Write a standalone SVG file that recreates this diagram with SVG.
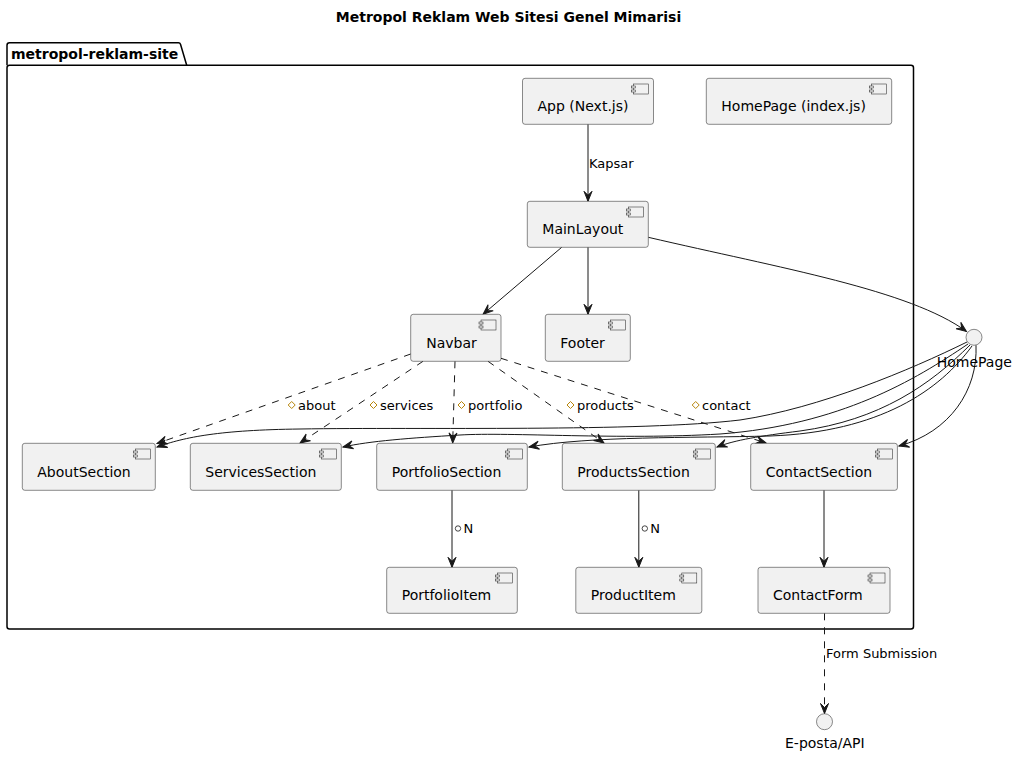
<svg xmlns="http://www.w3.org/2000/svg" width="1017" height="758" viewBox="0 0 1017 758">
<style>
text{font-family:"DejaVu Sans","Liberation Sans",sans-serif;fill:#000}
.title{font-size:14px;font-weight:bold}
.pkgl{font-size:14px;font-weight:bold}
.pkg{fill:none;stroke:#000;stroke-width:1.5}
.box{fill:#F1F1F1;stroke:#181818;stroke-width:0.5}
.ic{fill:#F1F1F1;stroke:#181818;stroke-width:0.5}
.nt{font-size:14px}
.el{font-size:13px}
.ln{fill:none;stroke:#181818;stroke-width:1}
.dash{stroke-dasharray:7,7}
.dia{fill:none;stroke:#B8860B;stroke-width:1}
.circ{fill:#F1F1F1;stroke:#181818;stroke-width:0.5}
.sc{fill:none;stroke:#181818;stroke-width:0.8}
</style>
<defs>
<marker id="ah" markerUnits="userSpaceOnUse" markerWidth="14" markerHeight="12" viewBox="-11 -6 12 12" refX="0" refY="0" orient="auto">
<path d="M0,0 L-10,-4 L-6,0 L-10,4 Z" fill="#181818" stroke="#181818" stroke-width="1"/>
</marker>
<g id="icon">
<rect class="ic" x="0" y="0" width="15" height="10"/>
<rect class="ic" x="-2" y="2" width="4" height="2"/>
<rect class="ic" x="-2" y="6" width="4" height="2"/>
</g>
</defs>

<text class="title" x="508.5" y="22" text-anchor="middle">Metropol Reklam Web Sitesi Genel Mimarisi</text>

<g id="pkg-metropol-reklam-site">
<path class="pkg" d="M7,65.3 L7,45.2 Q7,42.7 9.5,42.7 L178.5,42.7 Q180,42.7 180.5,44.2 L186.7,65.3"/>
<rect class="pkg" x="7" y="65.3" width="906.5" height="563.7" rx="2.5"/>
<text class="pkgl" x="11" y="59">metropol-reklam-site</text>
</g>

<g id="connectors">
<path class="ln" d="M588,124.3 L588,201.3" marker-end="url(#ah)"/>
<text class="el" x="589" y="168">Kapsar</text>
<path class="ln" d="M561.7,247.3 L483,314.3" marker-end="url(#ah)"/>
<path class="ln" d="M588,247.3 L588,314.3" marker-end="url(#ah)"/>
<path class="ln" d="M648.3,237.3 C780,268 910,290 966.5,331.5" marker-end="url(#ah)"/>

<path class="ln dash" d="M410.7,354 L157,443.5" marker-end="url(#ah)"/>
<path class="ln dash" d="M423,361.3 L300,443" marker-end="url(#ah)"/>
<path class="ln dash" d="M455,361.3 L452.7,443" marker-end="url(#ah)"/>
<path class="ln dash" d="M488,361.3 L604,443" marker-end="url(#ah)"/>
<path class="ln dash" d="M501,358.3 L766,443" marker-end="url(#ah)"/>

<path class="dia" d="M291.7,401.5 L295.2,405 L291.7,408.5 L288.2,405 Z"/>
<text class="el" x="298" y="410">about</text>
<path class="dia" d="M373.5,401.5 L377,405 L373.5,408.5 L370,405 Z"/>
<text class="el" x="380" y="410">services</text>
<path class="dia" d="M461.5,401.5 L465,405 L461.5,408.5 L458,405 Z"/>
<text class="el" x="468" y="410">portfolio</text>
<path class="dia" d="M570.5,401.5 L574,405 L570.5,408.5 L567,405 Z"/>
<text class="el" x="577" y="410">products</text>
<path class="dia" d="M695.7,401.5 L699.2,405 L695.7,408.5 L692.2,405 Z"/>
<text class="el" x="702" y="410">contact</text>

<path class="ln" d="M967,342 C910,370 820,408 740,420 C640,432 420,427 300,429 C220,430 185,437 157,447" marker-end="url(#ah)"/>
<path class="ln" d="M968,344 C915,380 840,425 720,434 C620,440 510,432 460,435 C410,438 370,441 343,447" marker-end="url(#ah)"/>
<path class="ln" d="M972,346 C940,390 880,432 770,436 C690,438 590,436 529,447" marker-end="url(#ah)"/>
<path class="ln" d="M970,345 C930,385 880,420 800,431 C760,436 735,440 717,447" marker-end="url(#ah)"/>
<path class="ln" d="M976,345.3 C978,390 950,432 899,446" marker-end="url(#ah)"/>

<path class="ln" d="M452,490.3 L452,567.3" marker-end="url(#ah)"/>
<circle class="sc" cx="458" cy="528.5" r="2.7"/>
<text class="el" x="463.5" y="533">N</text>
<path class="ln" d="M638.8,490.3 L638.8,567.3" marker-end="url(#ah)"/>
<circle class="sc" cx="644.8" cy="528.5" r="2.7"/>
<text class="el" x="650.3" y="533">N</text>
<path class="ln" d="M824,490.3 L824,567.3" marker-end="url(#ah)"/>
<path class="ln dash" d="M824.5,613.3 L824.5,713.5" marker-end="url(#ah)"/>
<text class="el" x="826" y="658">Form Submission</text>
</g>

<g id="node-app">
<rect class="box" x="522.5" y="78.3" width="131" height="46" rx="2.5"/>
<use href="#icon" x="633.5" y="84"/>
<text class="nt" x="537.5" y="111">App (Next.js)</text>
</g>
<g id="node-homepage-index">
<rect class="box" x="706.3" y="78.3" width="185.4" height="46" rx="2.5"/>
<use href="#icon" x="871.7" y="84"/>
<text class="nt" x="721.3" y="111">HomePage (index.js)</text>
</g>
<g id="node-mainlayout">
<rect class="box" x="527.3" y="201.3" width="121" height="46" rx="2.5"/>
<use href="#icon" x="628.3" y="207"/>
<text class="nt" x="542.3" y="234">MainLayout</text>
</g>
<g id="node-navbar">
<rect class="box" x="410.7" y="314.3" width="90.3" height="47" rx="2.5"/>
<use href="#icon" x="481" y="320"/>
<text class="nt" x="426.2" y="347.5">Navbar</text>
</g>
<g id="node-footer">
<rect class="box" x="545.3" y="314.3" width="85" height="47" rx="2.5"/>
<use href="#icon" x="610.3" y="320"/>
<text class="nt" x="560.3" y="347.5">Footer</text>
</g>
<g id="node-about">
<rect class="box" x="22.3" y="443.3" width="133" height="47" rx="2.5"/>
<use href="#icon" x="135.3" y="449"/>
<text class="nt" x="37.3" y="476.5">AboutSection</text>
</g>
<g id="node-services">
<rect class="box" x="190.3" y="443.3" width="151" height="47" rx="2.5"/>
<use href="#icon" x="321.3" y="449"/>
<text class="nt" x="205.3" y="476.5">ServicesSection</text>
</g>
<g id="node-portfolio">
<rect class="box" x="376.7" y="443.3" width="150.6" height="47" rx="2.5"/>
<use href="#icon" x="507.3" y="449"/>
<text class="nt" x="391.7" y="476.5">PortfolioSection</text>
</g>
<g id="node-products">
<rect class="box" x="562.3" y="443.3" width="153" height="47" rx="2.5"/>
<use href="#icon" x="695.3" y="449"/>
<text class="nt" x="577.3" y="476.5">ProductsSection</text>
</g>
<g id="node-contact">
<rect class="box" x="750.7" y="443.3" width="146.7" height="47" rx="2.5"/>
<use href="#icon" x="877.4" y="449"/>
<text class="nt" x="765.7" y="476.5">ContactSection</text>
</g>
<g id="node-portfolioitem">
<rect class="box" x="386.7" y="567.3" width="130.6" height="46" rx="2.5"/>
<use href="#icon" x="497.3" y="573"/>
<text class="nt" x="401.7" y="600">PortfolioItem</text>
</g>
<g id="node-productitem">
<rect class="box" x="575.8" y="567.3" width="126" height="46" rx="2.5"/>
<use href="#icon" x="681.8" y="573"/>
<text class="nt" x="590.8" y="600">ProductItem</text>
</g>
<g id="node-contactform">
<rect class="box" x="758" y="567.3" width="132" height="46" rx="2.5"/>
<use href="#icon" x="870" y="573"/>
<text class="nt" x="773" y="600">ContactForm</text>
</g>
<g id="node-homepage-iface">
<circle class="circ" cx="974" cy="337.3" r="8"/>
<text class="nt" x="936.7" y="367">HomePage</text>
</g>
<g id="node-eposta">
<circle class="circ" cx="824.5" cy="721.7" r="8"/>
<text class="nt" x="785" y="748">E-posta/API</text>
</g>
</svg>
